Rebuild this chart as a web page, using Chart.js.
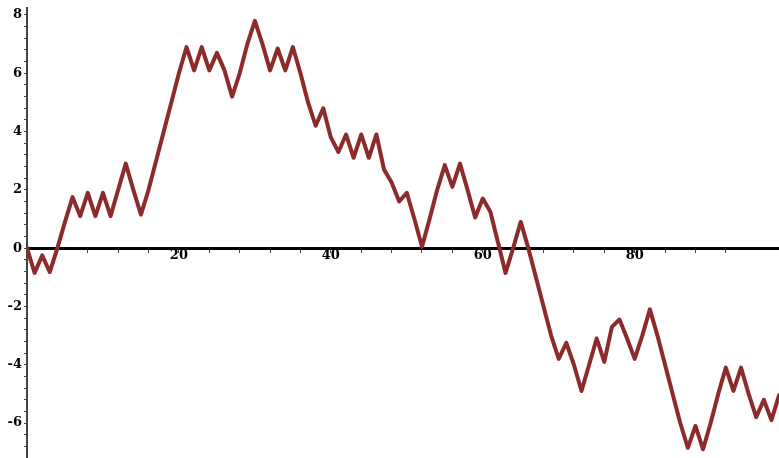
<!DOCTYPE html>
<html>
<head>
<meta charset="utf-8">
<script src="https://cdn.jsdelivr.net/npm/chart.js@4/dist/chart.umd.min.js"></script>
<style>
  html, body { margin: 0; padding: 0; background: #fff; }
  canvas { display: block; }
</style>
</head>
<body>
<canvas id="walk" width="779" height="458"></canvas>
<script>
// step index of the walk
var steps = [
  0, 1, 2, 3, 4, 5, 6, 7, 8, 9, 10, 11, 12, 13, 14, 15, 16, 17, 18, 19,
  20, 21, 22, 23, 24, 25, 26, 27, 28, 29, 30, 31, 32, 33, 34, 35, 36, 37, 38, 39,
  40, 41, 42, 43, 44, 45, 46, 47, 48, 49, 50, 51, 52, 53, 54, 55, 56, 57, 58, 59,
  60, 61, 62, 63, 64, 65, 66, 67, 68, 69, 70, 71, 72, 73, 74, 75, 76, 77, 78, 79,
  80, 81, 82, 83, 84, 85, 86, 87, 88, 89, 90, 91, 92, 93, 94, 95, 96, 97, 98, 99
];
// position at each step
var position = [
  0, -0.85, -0.25, -0.82, 0, 0.9, 1.75, 1.1, 1.9, 1.1,
  1.9, 1.1, 2, 2.9, 2, 1.15, 2, 3, 4, 5,
  6, 6.9, 6.1, 6.9, 6.1, 6.7, 6.1, 5.2, 6, 7,
  7.8, 7, 6.1, 6.85, 6.1, 6.9, 6, 5, 4.2, 4.8,
  3.8, 3.3, 3.9, 3.1, 3.9, 3.1, 3.9, 2.7, 2.25, 1.6,
  1.9, 1, 0.05, 1, 2, 2.85, 2.1, 2.9, 2, 1.05,
  1.7, 1.25, 0.2, -0.85, 0, 0.9, 0, -1, -2, -3,
  -3.8, -3.25, -4, -4.9, -4, -3.1, -3.9, -2.7, -2.45, -3.1,
  -3.8, -3, -2.1, -3, -4, -5, -6, -6.85, -6.1, -6.9,
  -6, -5, -4.1, -4.9, -4.1, -5, -5.8, -5.2, -5.9, -5.05
];
// labelled ticks
var xTickLabels = [20, 40, 60, 80];
var yTickLabels = [-6, -4, -2, 0, 2, 4, 6, 8];

var tickFont = { family: 'DejaVu Serif', weight: 'bold', size: 13 };

// minor y ticks every 0.4 between the axis limits
function yMinorTicks(scale) {
  var list = [];
  for (var i = -18; i <= 20; i++) {
    list.push({ value: Math.round(i * 4) / 10 });
  }
  scale.ticks = list;
}

var ctx = document.getElementById('walk').getContext('2d');
new Chart(ctx, {
  type: 'line',
  data: {
    labels: steps,
    datasets: [{
      data: position,
      borderColor: '#8c2a2c',
      borderWidth: 4,
      borderJoinStyle: 'round',
      borderCapStyle: 'round',
      pointRadius: 0,
      tension: 0,
      fill: false
    }]
  },
  options: {
    responsive: false,
    animation: false,
    layout: { padding: { left: 0, top: 8, right: 0, bottom: 0 } },
    plugins: { legend: { display: false }, tooltip: { enabled: false } },
    scales: {
      x: {
        type: 'linear',
        min: 0,
        max: 99,
        position: { y: 0 },
        afterFit: function (scale) {
          scale.height = 0;
          scale.paddingLeft = 0;
          scale.paddingRight = 0;
        },
        border: { color: '#000', width: 3 },
        grid: { drawOnChartArea: false, tickLength: 3, color: '#444', lineWidth: 1 },
        ticks: {
          stepSize: 4,
          autoSkip: false,
          maxRotation: 0,
          padding: -3,
          color: '#000',
          font: tickFont,
          callback: function (v) {
            return xTickLabels.indexOf(v) >= 0 ? String(v) : '';
          }
        }
      },
      y: {
        min: -7.2,
        max: 8.24,
        position: 'left',
        afterFit: function (scale) {
          scale.width = 27;
          scale.paddingTop = 0;
          scale.paddingBottom = 0;
        },
        afterBuildTicks: yMinorTicks,
        border: { color: '#444', width: 2 },
        grid: { drawOnChartArea: false, tickLength: 3, color: '#444', lineWidth: 1 },
        ticks: {
          autoSkip: false,
          padding: 2,
          color: '#000',
          font: tickFont,
          callback: function (v) {
            var r = Math.round(v * 10) / 10;
            return yTickLabels.indexOf(r) >= 0 ? String(r) : '';
          }
        }
      }
    }
  }
});
</script>
</body>
</html>
